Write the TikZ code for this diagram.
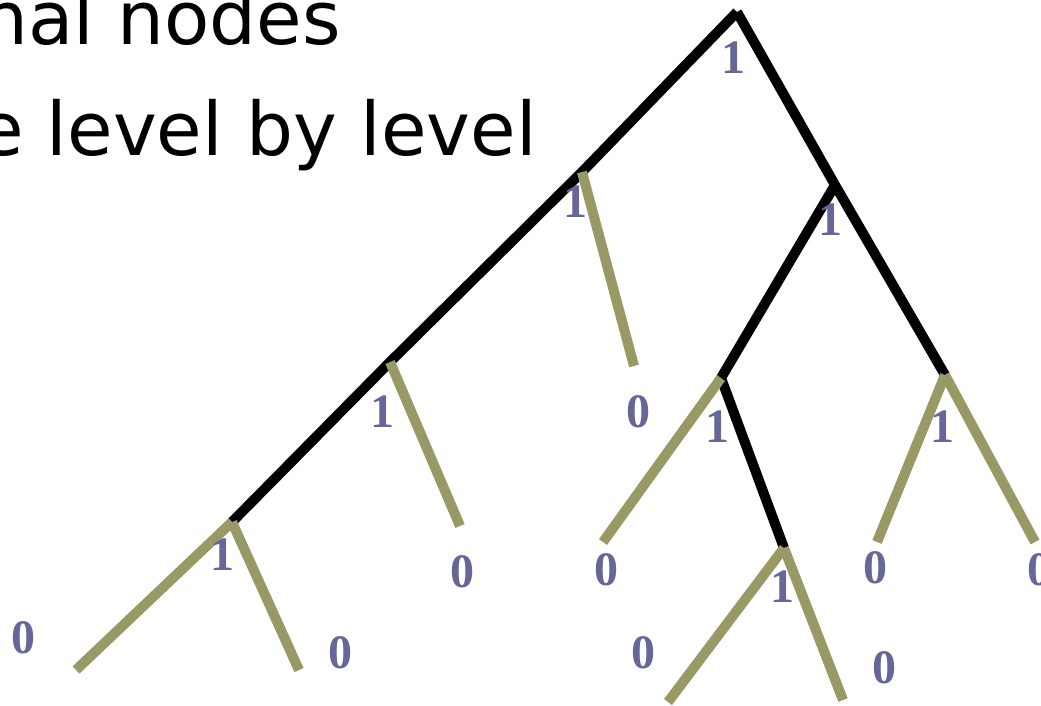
\documentclass[tikz,border=0pt]{standalone}
\usepackage{fontspec}
\setmainfont{Liberation Serif}
\newfontfamily\headfont{DejaVu Sans}
\usepackage{tikz}
\definecolor{olive}{RGB}{153,153,102}
\definecolor{bitblue}{RGB}{102,102,153}

\begin{document}
\begin{tikzpicture}[
  x=1pt, y=-1pt,
  head/.style={font=\headfont\fontsize{74}{80}\selectfont, inner sep=0pt, anchor=base east},
  bit/.style={font=\bfseries\fontsize{48}{50}\selectfont, text=bitblue, inner sep=0pt},
  path1/.style={line width=10pt, black},
  path0/.style={line width=10pt, olive}
]
\useasboundingbox (0,0) rectangle (1041,706);
\node[head] (h1) at (341,45) {nal nodes};
\node[head] (h2) at (537,155) {e level by level};
% tree nodes
\coordinate (r) at (737,12);
\coordinate (a) at (582,172);
\coordinate (b) at (390,362);
\coordinate (c) at (232,522);
\coordinate (d) at (835,185);
\coordinate (e) at (945,375);
\coordinate (f) at (721,378);
\coordinate (g) at (784,548);
% leaves
\coordinate (a0) at (634,366);
\coordinate (b0) at (460,526);
\coordinate (c0) at (76,670);
\coordinate (c1) at (299,670);
\coordinate (f0) at (603,542);
\coordinate (g0) at (668,702);
\coordinate (g1) at (843,700);
\coordinate (e0) at (877,542);
\coordinate (e1) at (1035,542);
% black path
\draw[path1] (r) -- (a) -- (b) -- (c);
\draw[path1] (r) -- (d) -- (e);
\draw[path1] (d) -- (f);
\draw[path1] (f) -- (g);
% olive branches
\draw[path0] (a) -- (a0);
\draw[path0] (b) -- (b0);
\draw[path0] (c) -- (c0);
\draw[path0] (c) -- (c1);
\draw[path0] (f) -- (f0);
\draw[path0] (g) -- (g0);
\draw[path0] (g) -- (g1);
\draw[path0] (e) -- (e0);
\draw[path0] (e) -- (e1);
% labels
\node[bit] (lr) at (733,58) {1};
\node[bit] (la) at (575,202) {1};
\node[bit] (ld) at (830,220) {1};
\node[bit] (lb) at (382,412) {1};
\node[bit] (lc) at (222,555) {1};
\node[bit] (lf) at (717,427) {1};
\node[bit] (le) at (942,427) {1};
\node[bit] (lg) at (782,587) {1};
\node[bit] (la0) at (638,412) {0};
\node[bit] (lb0) at (462,572) {0};
\node[bit] (lc0) at (23,638) {0};
\node[bit] (lc1) at (340,653) {0};
\node[bit] (lf0) at (606,570) {0};
\node[bit] (le0) at (875,568) {0};
\node[bit] (le1) at (1039,570) {0};
\node[bit] (lg0) at (643,653) {0};
\node[bit] (lg1) at (884,668) {0};
\end{tikzpicture}
\end{document}
